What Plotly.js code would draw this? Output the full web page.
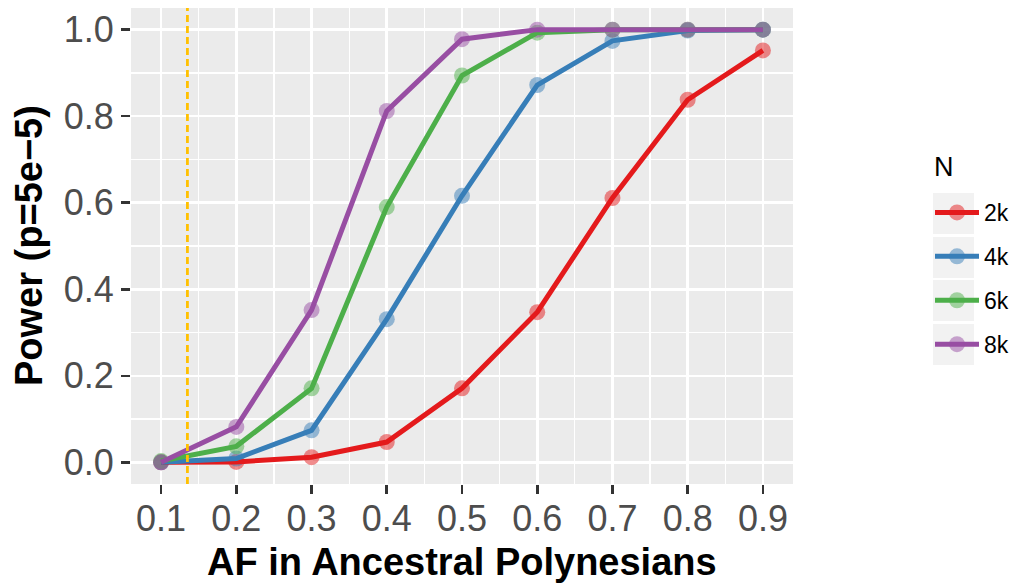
<!DOCTYPE html>
<html>
<head>
<meta charset="utf-8">
<script src="https://cdn.plot.ly/plotly-3.0.1.min.js"></script>
<style>
  html, body { margin: 0; padding: 0; background: #ffffff; }
  #chart { width: 1018px; height: 586px; }
</style>
</head>
<body>
<div id="chart"></div>
<script>
// Allele frequency grid (x axis)
const af = [0.1, 0.2, 0.3, 0.4, 0.5, 0.6, 0.7, 0.8, 0.9];

// Power at p = 5e-5 for each sample size
const power2k = [0.000, 0.001, 0.012, 0.047, 0.171, 0.347, 0.611, 0.838, 0.952];
const power4k = [0.000, 0.009, 0.074, 0.331, 0.616, 0.872, 0.974, 0.998, 1.000];
const power6k = [0.003, 0.037, 0.171, 0.590, 0.894, 0.993, 1.000, 1.000, 1.000];
const power8k = [0.000, 0.082, 0.352, 0.812, 0.978, 1.000, 1.000, 1.000, 1.000];

const seriesNames = ['2k', '4k', '6k', '8k'];
const seriesValues = [power2k, power4k, power6k, power8k];
const seriesColors = ['#E41A1C', '#377EB8', '#4DAF4A', '#984EA3'];

const xTicks = [0.1, 0.2, 0.3, 0.4, 0.5, 0.6, 0.7, 0.8, 0.9];
const xTickLabels = ['0.1', '0.2', '0.3', '0.4', '0.5', '0.6', '0.7', '0.8', '0.9'];
const yTicks = [0.0, 0.2, 0.4, 0.6, 0.8, 1.0];
const yTickLabels = ['0.0', '0.2', '0.4', '0.6', '0.8', '1.0'];

// Reference allele frequency marked with a dashed line
const referenceAF = 0.135;

const FONT = 'Liberation Sans, Arial, Helvetica, sans-serif';

// Plot-area placement in pixels
const PLOT_L = 131, PLOT_R = 793, PLOT_T = 8, PLOT_B = 484;
const PW = PLOT_R - PLOT_L, PH = PLOT_B - PLOT_T;
const px2x = p => (p - PLOT_L) / PW;
const px2y = p => (PLOT_B - p) / PH;

function rgba(hex, a) {
  const n = parseInt(hex.slice(1), 16);
  return 'rgba(' + ((n >> 16) & 255) + ',' + ((n >> 8) & 255) + ',' + (n & 255) + ',' + a + ')';
}

const traces = [];
// Points first, so the lines sit on top of them
seriesNames.forEach((name, i) => {
  traces.push({
    type: 'scatter', mode: 'markers', x: af, y: seriesValues[i],
    marker: { size: 16, color: rgba(seriesColors[i], 0.5) },
    showlegend: false, hoverinfo: 'skip', cliponaxis: false
  });
});
// Lines (these carry the legend entries; their own markers are hidden on the plot)
seriesNames.forEach((name, i) => {
  traces.push({
    type: 'scatter', mode: 'lines+markers', name: name, x: af, y: seriesValues[i],
    line: { color: seriesColors[i], width: 5 },
    marker: { size: 16, color: rgba(seriesColors[i], 0.5) },
    selectedpoints: [],
    unselected: { marker: { opacity: 0 } },
    legendgroup: name, cliponaxis: false
  });
});

// Grey key backgrounds behind the legend symbols
const keyTops = [193, 237, 280, 324];
const shapes = [{
  type: 'line', xref: 'x', yref: 'paper', x0: referenceAF, x1: referenceAF, y0: 0, y1: 1,
  line: { color: '#FFC000', width: 2.8, dash: '7px,4px' }, layer: 'above'
}];
keyTops.forEach(top => {
  shapes.push({
    type: 'rect', xref: 'paper', yref: 'paper',
    x0: px2x(933), x1: px2x(974),
    y0: px2y(top + 41), y1: px2y(top),
    fillcolor: '#F2F2F2', line: { width: 0 }, layer: 'below'
  });
});

const axisCommon = {
  showgrid: true, gridcolor: '#FFFFFF', gridwidth: 2.6,
  zeroline: false, showline: false,
  ticks: 'outside', ticklen: 9, tickwidth: 2.6, tickcolor: '#333333',
  tickfont: { size: 36, color: '#4D4D4D', family: FONT },
  fixedrange: true
};

const layout = {
  width: 1018, height: 586,
  margin: { l: PLOT_L, r: 1018 - PLOT_R, t: PLOT_T, b: 586 - PLOT_B, pad: 0, autoexpand: false },
  paper_bgcolor: '#FFFFFF',
  plot_bgcolor: '#EBEBEB',
  font: { family: FONT, color: '#4D4D4D' },
  showlegend: true,
  xaxis: Object.assign({}, axisCommon, {
    range: [0.06, 0.94], tickvals: xTicks, ticktext: xTickLabels,
    minor: { dtick: 0.05, tick0: 0.1, showgrid: true, gridcolor: '#FFFFFF', gridwidth: 1.3, ticks: '' },
    ticklabelstandoff: -6
  }),
  yaxis: Object.assign({}, axisCommon, {
    range: [-0.05, 1.05], tickvals: yTicks, ticktext: yTickLabels,
    minor: { dtick: 0.1, tick0: 0, showgrid: true, gridcolor: '#FFFFFF', gridwidth: 1.3, ticks: '' }
  }),
  legend: {
    x: px2x(930), y: px2y(191), xanchor: 'left', yanchor: 'top',
    bgcolor: 'rgba(0,0,0,0)', borderwidth: 0,
    font: { size: 23, color: '#000000', family: FONT },
    itemwidth: 44,
    traceorder: 'grouped', tracegroupgap: 11,
    itemclick: false, itemdoubleclick: false
  },
  shapes: shapes,
  annotations: [
    {
      text: 'N', xref: 'paper', yref: 'paper',
      x: px2x(932), y: px2y(167), xanchor: 'left', yanchor: 'middle',
      showarrow: false, font: { size: 27, color: '#000000', family: FONT }
    },
    {
      text: '<b>AF in Ancestral Polynesians</b>', xref: 'paper', yref: 'paper',
      x: 0.5, y: px2y(562), xanchor: 'center', yanchor: 'middle',
      showarrow: false, font: { size: 38, color: '#000000', family: FONT }
    },
    {
      text: '<b>Power (p=5e\u22125)</b>', xref: 'paper', yref: 'paper',
      x: px2x(29), y: 0.5, xanchor: 'center', yanchor: 'middle', textangle: -90,
      showarrow: false, font: { size: 38, color: '#000000', family: FONT }
    }
  ]
};

Plotly.newPlot('chart', traces, layout, { displayModeBar: false, staticPlot: true });
</script>
</body>
</html>
